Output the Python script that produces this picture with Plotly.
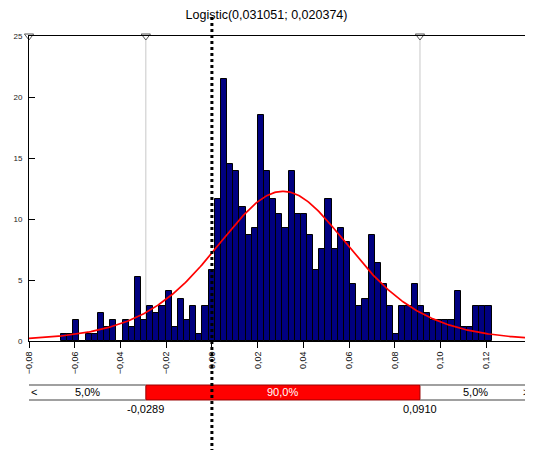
import numpy as np
import plotly.graph_objects as go

# ---- data ----
title_text = "Logistic(0,031051; 0,020374)"
mu = 0.031051
scale = 0.020374

bin_first_center = -0.066 + 0.00269 / 2
bin_width = 0.00269
density = [
    0.58, 0.58, 1.74, 0.00, 0.58, 0.58, 2.32, 1.16, 1.74, 0.00,
    1.74, 1.16, 5.22, 1.74, 2.90, 2.32, 2.90, 4.06, 1.16, 3.48,
    1.74, 2.90, 0.58, 2.90, 5.80, 11.60, 21.46, 14.50, 13.92, 11.02,
    8.70, 9.28, 18.56, 13.92, 11.60, 10.44, 9.28, 13.92, 10.44, 10.44,
    8.70, 5.80, 7.54, 11.60, 7.54, 9.28, 8.12, 4.64, 2.90, 3.48,
    8.70, 6.38, 4.64, 2.90, 0.58, 2.90, 2.90, 4.64, 2.90, 2.32,
    1.74, 1.74, 1.74, 1.74, 4.06, 1.16, 1.16, 2.90, 2.90, 2.90,
]

x_min, x_max = -0.08, 0.14
y_ticks = [0, 5, 10, 15, 20, 25]
cut_low, cut_high = -0.0289, 0.0910
cut_labels = ["-0,0289", "0,0910"]
pct_labels = ["5,0%", "90,0%", "5,0%"]
marker_x = [x_min, cut_low, cut_high, x_max]
ref_line_x = 0.0

FONT = "Liberation Sans, Arial, sans-serif"

# ---- fitted logistic density ----
xs = np.linspace(x_min, x_max, 400)
z = (xs - mu) / scale
pdf = np.exp(-z) / (scale * (1 + np.exp(-z)) ** 2)

fig = go.Figure()

fig.add_trace(go.Bar(
    x0=bin_first_center, dx=bin_width, y=density, width=bin_width,
    marker=dict(color="#000080", line=dict(color="#000000", width=1)),
    hoverinfo="skip", showlegend=False,
))

fig.add_trace(go.Scatter(
    x=xs, y=pdf, mode="lines",
    line=dict(color="#ff0000", width=1.7),
    hoverinfo="skip", showlegend=False,
))

fig.add_trace(go.Scatter(
    x=marker_x, y=[25] * len(marker_x), mode="markers",
    marker=dict(symbol="triangle-down", size=8, color="white",
                line=dict(color="#555555", width=1)),
    cliponaxis=False, hoverinfo="skip", showlegend=False,
))

shapes = []
# grey vertical lines at the cut values
for cx in (cut_low, cut_high):
    shapes.append(dict(type="line", xref="x", yref="y", x0=cx, x1=cx, y0=0, y1=25,
                       line=dict(color="#c8c8c8", width=1), layer="below"))

# percentile band below the chart
band_top, band_bot = -0.1443, -0.1934
shapes.append(dict(type="rect", xref="x", yref="paper", x0=cut_low, x1=cut_high,
                   y0=band_bot, y1=band_top, fillcolor="#ff0000",
                   line=dict(color="#990000", width=1)))
for yy in (band_top, band_bot):
    shapes.append(dict(type="line", xref="x", yref="paper", x0=x_min, x1=cut_low,
                       y0=yy, y1=yy, line=dict(color="#808080", width=1.5)))
    shapes.append(dict(type="line", xref="x", yref="paper", x0=cut_high, x1=x_max,
                       y0=yy, y1=yy, line=dict(color="#808080", width=1.5)))

# dotted reference line
shapes.append(dict(type="line", xref="x", yref="paper", x0=ref_line_x, x1=ref_line_x,
                   y0=1.062, y1=-0.36, line=dict(color="#000000", width=3, dash="dot")))

band_mid = (band_top + band_bot) / 2
annotations = [
    dict(x=x_min, y=band_mid, xref="x", yref="paper", text="<", showarrow=False,
         xanchor="left", yanchor="middle", font=dict(family=FONT, size=11, color="#000")),
    dict(x=x_max, y=band_mid, xref="x", yref="paper", text=">", showarrow=False,
         xanchor="right", xshift=-1, yanchor="middle",
         font=dict(family=FONT, size=11, color="#000")),
    dict(x=(x_min + cut_low) / 2, y=band_mid, xref="x", yref="paper", text=pct_labels[0],
         showarrow=False, yanchor="middle", font=dict(family=FONT, size=11, color="#000")),
    dict(x=(cut_low + cut_high) / 2, y=band_mid, xref="x", yref="paper", text=pct_labels[1],
         showarrow=False, yanchor="middle", font=dict(family=FONT, size=11, color="#ffffff")),
    dict(x=(cut_high + x_max) / 2, y=band_mid, xref="x", yref="paper", text=pct_labels[2],
         showarrow=False, yanchor="middle", font=dict(family=FONT, size=11, color="#000")),
    dict(x=cut_low, y=-0.223, xref="x", yref="paper", text=cut_labels[0],
         showarrow=False, yanchor="middle", font=dict(family=FONT, size=11, color="#000")),
    dict(x=cut_high, y=-0.223, xref="x", yref="paper", text=cut_labels[1],
         showarrow=False, yanchor="middle", font=dict(family=FONT, size=11, color="#000")),
]

# the page body adds an 8px offset, so the figure is 8px smaller in each direction
fig.update_layout(
    width=525, height=442,
    margin=dict(l=21, r=1, t=28, b=109, autoexpand=False),
    paper_bgcolor="white", plot_bgcolor="white",
    separators=",.",
    bargap=0,
    font=dict(family=FONT, color="#000"),
    title=dict(text=title_text, x=258.5 / 525, xref="container", y=1 - 7 / 442,
               yref="container", xanchor="center", yanchor="middle",
               font=dict(family=FONT, size=12.5, color="#000")),
    shapes=shapes,
    annotations=annotations,
    xaxis=dict(range=[x_min, x_max], showgrid=False, zeroline=False, automargin=False,
               showline=True, linecolor="#000", linewidth=1, mirror=True,
               tick0=x_min, dtick=0.02, tickformat=".2f",
               ticks="outside", ticklen=6, tickcolor="#000",
               tickangle=-90, tickfont=dict(family=FONT, size=9, color="#111")),
    yaxis=dict(range=[0, 25], showgrid=False, zeroline=False, automargin=False,
               showline=True, linecolor="#000", linewidth=1,
               tickvals=y_ticks, ticks="inside", ticklen=6, tickcolor="#000",
               ticklabelstandoff=4,
               tickfont=dict(family=FONT, size=8, color="#222")),
)

fig.write_html("out.html")
